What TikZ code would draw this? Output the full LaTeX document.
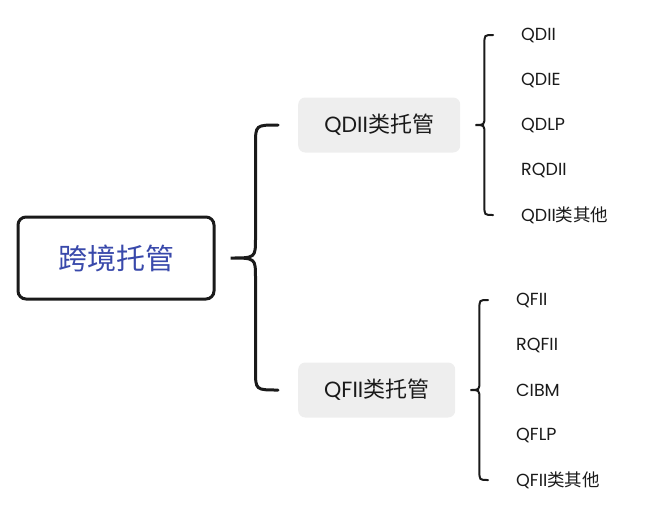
\documentclass[tikz,border=0pt]{standalone}
\usepackage{fontspec}
\setmainfont{Poppins}
\newfontfamily\cjk{Noto Sans CJK SC}
\usetikzlibrary{calc, positioning}
\definecolor{rootblue}{HTML}{3949AB}
\definecolor{boxgray}{HTML}{EEEEEE}
\definecolor{inkdark}{HTML}{1A1A1A}

% curly brace: tip, top end, bottom end, offset of the stem, corner radius
\newcommand{\mapbrace}[6][]{%
  \draw[#1] let \p1=(#2), \p2=(#3), \p3=(#4) in
    (\p2) .. controls (\x1+#5,\y2) .. (\x1+#5,\y2-#6)
    -- (\x1+#5,\y1+#6) .. controls (\x1+#5,\y1) .. (\p1)
    .. controls (\x1+#5,\y1) .. (\x1+#5,\y1-#6)
    -- (\x1+#5,\y3+#6) .. controls (\x1+#5,\y3) .. (\p3);}

\tikzset{
  rootbox/.style={draw=inkdark, line width=3pt, rounded corners=8pt, fill=white,
    minimum width=196pt, minimum height=82pt, text=rootblue, font=\cjk\fontsize{29}{34}\selectfont},
  groupbox/.style={fill=boxgray, rounded corners=7pt, anchor=west, inner xsep=0pt,
    minimum height=55pt, text=inkdark, font=\fontsize{22}{26}\selectfont},
  leaf/.style={anchor=west, inner sep=0pt, text=inkdark, font=\fontsize{17.5}{21}\selectfont},
  bigbrace/.style={draw=inkdark, line width=3pt, line cap=round},
  smallbrace/.style={draw=inkdark, line width=2pt, line cap=round}
}

\begin{document}
\begin{tikzpicture}[x=1pt, y=-1pt]
  \useasboundingbox (0,0) rectangle (645,509);

  % root
  \node[rootbox] (root) at (116,258) {跨境托管};

  % two groups
  \node[groupbox, minimum width=162pt] (qdii) at (298,125) {QDII{\cjk 类托管}};
  \node[groupbox, minimum width=157pt] (qfii) at (298,390) {QFII{\cjk 类托管}};

  % leaves of the QDII group
  \foreach \txt [count=\i] in {QDII, QDIE, QDLP, RQDII, QDII{\cjk 类其他}}
    \node[leaf] (qd\i) at (521,{35+45*(\i-1)}) {\txt};

  % leaves of the QFII group
  \foreach \txt [count=\i] in {QFII, RQFII, CIBM, QFLP, QFII{\cjk 类其他}}
    \node[leaf] (qf\i) at (516,{300+45*(\i-1)}) {\txt};

  % braces
  \coordinate (rtip) at ($(root.east)+(15,0)$);
  \coordinate (rtop) at ($(qdii.west)+(-20,0)$);
  \coordinate (rbot) at ($(qfii.west)+(-20,0)$);
  \mapbrace[bigbrace]{rtip}{rtop}{rbot}{25pt}{20pt}

  \coordinate (dtip) at ($(qdii.east)+(15,0)$);
  \coordinate (dtop) at ($(qd1.west)+(-28,0)$);
  \coordinate (dbot) at ($(qd5.west)+(-28,0)$);
  \mapbrace[smallbrace]{dtip}{dtop}{dbot}{9pt}{9pt}

  \coordinate (ftip) at ($(qfii.east)+(15,0)$);
  \coordinate (ftop) at ($(qf1.west)+(-28,0)$);
  \coordinate (fbot) at ($(qf5.west)+(-28,0)$);
  \mapbrace[smallbrace]{ftip}{ftop}{fbot}{9pt}{9pt}
\end{tikzpicture}
\end{document}
